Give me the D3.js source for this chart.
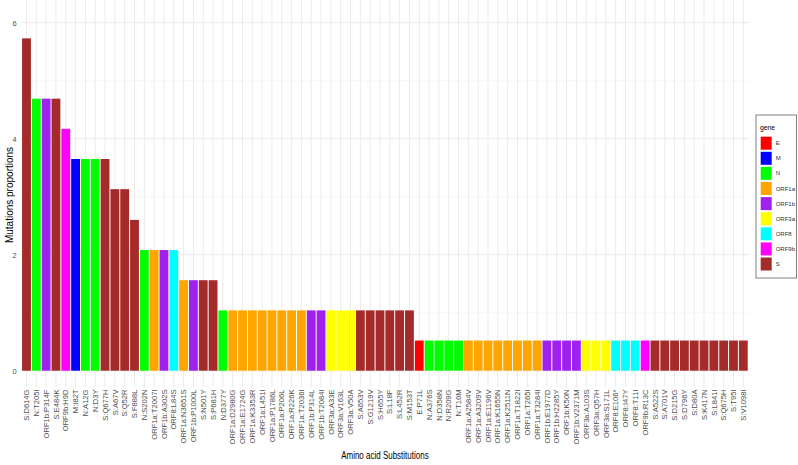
<!DOCTYPE html>
<html lang="en">
<head>
<meta charset="UTF-8">
<title>Amino acid substitutions</title>
<script src="https://d3js.org/d3.v7.min.js"></script>
<style>
  body { margin: 0; background: #fff; }
  #chart svg { font-family: "Liberation Sans", Arial, sans-serif; }
</style>
</head>
<body>
<div id="chart"></div>
<script>
// substitutions, in plotted order
var labels = [
  "S:D614G", "N:T205I", "ORF1b:P314F", "S:E484K", "ORF9b:H9D", "M:I82T", "N:A12G", "N:D3Y",
  "S:Q677H", "S:A67V", "S:Q52R", "S:F888L", "N:S202N", "ORF1a:T2007I", "ORF1b:A302S", "ORF8:L84S",
  "ORF1a:N3651S", "ORF1b:P1000L", "S:N501Y", "S:P681H", "N:D377Y", "ORF1a:D2980G", "ORF1a:E1724G",
  "ORF1a:K3353R", "ORF1a:L451I", "ORF1a:P1786L", "ORF1a:P206L", "ORF1a:R226K", "ORF1a:T2036I",
  "ORF1b:P314L", "ORF1b:T2084I", "ORF3a:A33E", "ORF3a:V163L", "ORF3a:V50A", "S:A653V", "S:G1219V",
  "S:H655Y", "S:L18F", "S:L452R", "S:M153T", "E:P71L", "N:A376S", "N:D358N", "N:R209G", "N:T16M",
  "ORF1a:A2584V", "ORF1a:A3209V", "ORF1a:E1196V", "ORF1a:K1655N", "ORF1a:K2511N", "ORF1a:T1822I",
  "ORF1a:T265I", "ORF1a:T3284I", "ORF1b:E1977D", "ORF1b:H2285Y", "ORF1b:K50N", "ORF1b:V2371M",
  "ORF3a:A103S", "ORF3a:Q57H", "ORF3a:S171L", "ORF8:E106*", "ORF8:I47Y", "ORF8:T11I", "ORF9b:R13C",
  "S:A522S", "S:A701V", "S:D215G", "S:D796Y", "S:D80A", "S:K417N", "S:L841I", "S:Q675H", "S:T95I",
  "S:V1098I"
];

var proportions = [
  5.73, 4.69, 4.69, 4.69, 4.17, 3.65, 3.65, 3.65,
  3.65, 3.13, 3.13, 2.60, 2.08, 2.08, 2.08, 2.08,
  1.56, 1.56, 1.56, 1.56, 1.04, 1.04, 1.04,
  1.04, 1.04, 1.04, 1.04, 1.04, 1.04,
  1.04, 1.04, 1.04, 1.04, 1.04, 1.04, 1.04,
  1.04, 1.04, 1.04, 1.04, 0.52, 0.52, 0.52, 0.52, 0.52,
  0.52, 0.52, 0.52, 0.52, 0.52, 0.52,
  0.52, 0.52, 0.52, 0.52, 0.52, 0.52,
  0.52, 0.52, 0.52, 0.52, 0.52, 0.52, 0.52,
  0.52, 0.52, 0.52, 0.52, 0.52, 0.52, 0.52, 0.52, 0.52,
  0.52
];

var genes = ["E", "M", "N", "ORF1a", "ORF1b", "ORF3a", "ORF8", "ORF9b", "S"];
var geneColors = ["#ff0000", "#0000ff", "#00ff00", "#ffa500", "#a020f0", "#ffff00", "#00ffff", "#ff00ff", "#a52a2a"];

var majorTicks = [0, 2, 4, 6];
var minorTicks = [1, 3, 5];

var W = 798, H = 465;
var panel = { left: 20.6, right: 749.2, top: 0, bottom: 387 };

var svg = d3.select("#chart").append("svg")
    .attr("width", W)
    .attr("height", H);

var x = d3.scaleBand()
    .domain(labels)
    .range([panel.left, panel.right])
    .paddingInner(0.1)
    .paddingOuter(0.15);

var y = d3.scaleLinear()
    .domain([0, 6])
    .range([370.7, 22.7]);

var color = d3.scaleOrdinal().domain(genes).range(geneColors);

var rows = labels.map(function(l, i) {
    return { label: l, gene: l.split(":")[0], value: proportions[i] };
});

// grid
var grid = svg.append("g");
grid.selectAll(".minor")
    .data(minorTicks)
    .enter().append("line")
    .attr("x1", panel.left).attr("x2", panel.right)
    .attr("y1", d => y(d)).attr("y2", d => y(d))
    .attr("stroke", "#f2f2f2")
    .attr("stroke-width", 0.6);
grid.selectAll(".major")
    .data(majorTicks)
    .enter().append("line")
    .attr("x1", panel.left).attr("x2", panel.right)
    .attr("y1", d => y(d)).attr("y2", d => y(d))
    .attr("stroke", "#ebebeb")
    .attr("stroke-width", 1);
grid.selectAll(".vert")
    .data(labels)
    .enter().append("line")
    .attr("x1", d => x(d) + x.bandwidth() / 2)
    .attr("x2", d => x(d) + x.bandwidth() / 2)
    .attr("y1", panel.top).attr("y2", panel.bottom)
    .attr("stroke", "#ebebeb")
    .attr("stroke-width", 1);

// bars
svg.append("g").selectAll("rect")
    .data(rows)
    .enter().append("rect")
    .attr("x", d => x(d.label))
    .attr("width", x.bandwidth())
    .attr("y", d => y(d.value))
    .attr("height", d => y(0) - y(d.value))
    .attr("fill", d => color(d.gene));

// y axis labels
var yAxis = svg.append("g")
    .attr("transform", "translate(" + panel.left + ",0)")
    .call(d3.axisLeft(y).tickValues(majorTicks).tickFormat(d3.format("d")).tickSize(0).tickPadding(4));
yAxis.select(".domain").remove();
yAxis.selectAll("text")
    .style("font-size", "7.5px")
    .style("font-family", "'Liberation Sans', Arial, sans-serif")
    .attr("fill", "#4d4d4d");

// x axis labels
var xAxis = svg.append("g")
    .attr("transform", "translate(0," + panel.bottom + ")")
    .call(d3.axisBottom(x).tickSize(0));
xAxis.select(".domain").remove();
xAxis.selectAll("text")
    .attr("transform", "rotate(-90)")
    .attr("x", -2.5)
    .attr("y", 0)
    .attr("dy", "0.35em")
    .style("text-anchor", "end")
    .style("font-size", "7.6px")
    .style("font-family", "'Liberation Sans', Arial, sans-serif")
    .attr("fill", "#4d4d4d");

// axis titles
svg.append("text")
    .attr("transform", "translate(" + ((panel.left + panel.right) / 2) + ",459) scale(0.8,1)")
    .style("text-anchor", "middle")
    .style("font-size", "10px")
    .text("Amino acid Substitutions");

svg.append("text")
    .attr("transform", "translate(12.5,195) rotate(-90)")
    .style("text-anchor", "middle")
    .style("font-size", "10px")
    .text("Mutations proportions");

// legend
var lg = svg.append("g").attr("transform", "translate(756,115)");
lg.append("rect")
    .attr("width", 40.5)
    .attr("height", 163)
    .attr("fill", "#fff")
    .attr("stroke", "#808080")
    .attr("stroke-width", 1);
lg.append("text")
    .attr("transform", "translate(4,15) scale(0.85,1)")
    .style("font-size", "8px")
    .text("gene");
var keys = lg.selectAll(".key")
    .data(genes)
    .enter().append("g")
    .attr("transform", (d, i) => "translate(4.7," + (21.7 + i * 15.1) + ")");
keys.append("rect")
    .attr("width", 11)
    .attr("height", 13)
    .attr("fill", d => color(d));
keys.append("text")
    .attr("x", 15)
    .attr("y", 6.5)
    .attr("dy", "0.35em")
    .style("font-size", "6px")
    .attr("fill", "#333")
    .text(d => d);
</script>
</body>
</html>
